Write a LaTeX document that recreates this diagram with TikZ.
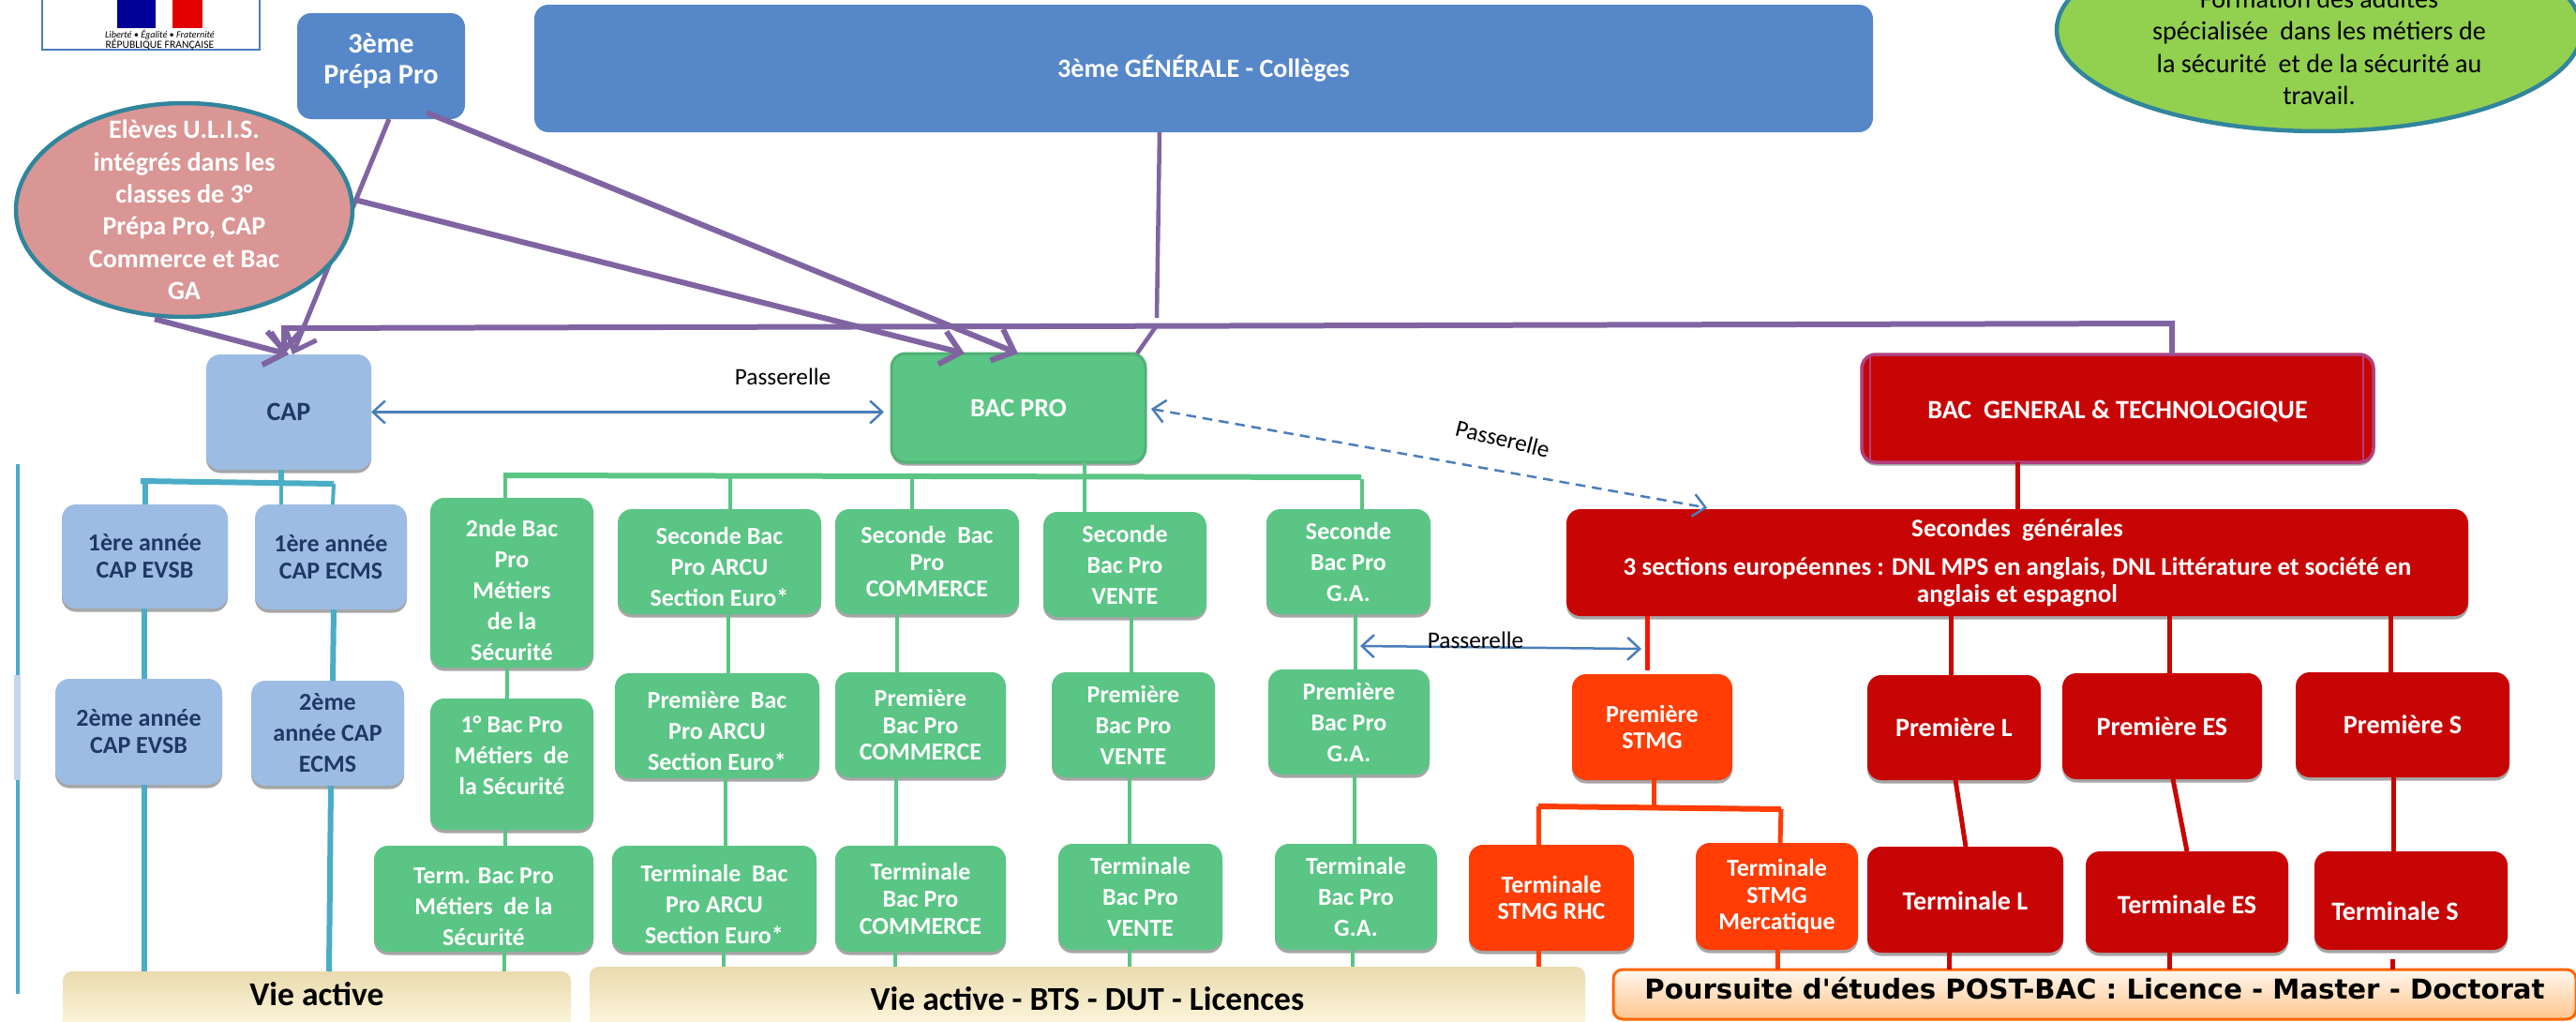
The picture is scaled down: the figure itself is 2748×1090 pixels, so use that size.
\documentclass[tikz,border=0pt]{standalone}
\usepackage{fontspec}
\setmainfont{Carlito}
\newfontfamily\widefont{DejaVu Sans}
\usetikzlibrary{shapes.geometric,shadows,arrows.meta}
\definecolor{blue_top}{HTML}{5687C8}
\definecolor{blue_cap}{HTML}{9DBCE3}
\definecolor{navy_txt}{HTML}{1F3864}
\definecolor{green_pro}{HTML}{5AC584}
\definecolor{red_gen}{HTML}{C80505}
\definecolor{red_edge}{HTML}{B0407F}
\definecolor{orange_stmg}{HTML}{FF3D05}
\definecolor{purple_edge}{HTML}{8064A2}
\definecolor{teal_edge}{HTML}{4BACC6}
\definecolor{teal_dark}{HTML}{31859C}
\definecolor{blue_edge}{HTML}{4A7EBB}
\definecolor{pink_ulis}{HTML}{D99694}
\definecolor{green_form}{HTML}{92D050}
\definecolor{tan_top}{HTML}{E9DBAE}
\definecolor{tan_low}{HTML}{FFF8E1}
% small rules that move the text of a box down or up
\newcommand{\tdown}[1]{\rule{0pt}{#1}}
\newcommand{\tup}[1]{\rule[-#1]{0pt}{#1}}
\begin{document}
\begin{tikzpicture}[x=0.1mm,y=-0.1mm,
box_style/.style={rectangle,rounded corners=1.5mm,inner sep=0pt,outer sep=0pt,align=center,text=white,
  font=\bfseries\fontsize{7.4}{9.4}\selectfont},
box_shadow/.style={drop shadow={shadow xshift=0pt,shadow yshift=-0.35mm,opacity=.35,fill=black}},
tight/.style={font=\bfseries\fontsize{7.4}{8.2}\selectfont},
large/.style={font=\bfseries\fontsize{8}{9.4}\selectfont},
box_top/.style={box_style,fill=blue_top},
box_cap/.style={box_style,box_shadow,fill=blue_cap,text=navy_txt},
box_pro/.style={box_style,box_shadow,fill=green_pro},
box_gen/.style={box_style,box_shadow,fill=red_gen},
box_stmg/.style={box_style,box_shadow,fill=orange_stmg},
box_exit/.style={box_style,rounded corners=1mm,top color=tan_top,bottom color=tan_low,text=black,
  font=\bfseries\fontsize{10.1}{12}\selectfont},
edge_purple/.style={draw=purple_edge,line width=.6mm,-{Straight Barb[length=2mm,width=3.6mm]}},
edge_plain/.style={draw=purple_edge,line width=.45mm},
edge_teal/.style={draw=teal_edge,line width=.6mm},
edge_green/.style={draw=green_pro,line width=.45mm},
edge_red/.style={draw=red_gen,line width=.5mm},
edge_stmg/.style={draw=orange_stmg,line width=.5mm},
edge_pass/.style={draw=blue_edge,line width=.25mm,<->,>={Straight Barb[length=1.3mm,width=2.4mm]}},
pass_txt/.style={inner sep=0pt,text=black,font=\fontsize{7.2}{9}\selectfont}]
\useasboundingbox (0,0) rectangle (2748,1090);
\clip (0,0) rectangle (2748,1090);

% logo
\node[draw=blue_edge,line width=.2mm,inner sep=0pt,minimum width=23.2mm,minimum height=7.3mm] (logo) at (161,16.5) {};
\fill[fill=blue!60!black] (125,0) rectangle (166,30);
\fill[fill=red!90!black] (184,0) rectangle (216,30);
\node[inner sep=0pt,font=\itshape\fontsize{2.9}{3}\selectfont] (logo_a) at (170.5,37) {Liberté • Égalité • Fraternité};
\node[inner sep=0pt,font=\fontsize{3.3}{4}\selectfont] (logo_b) at (170.5,48) {RÉPUBLIQUE FRANÇAISE};

% top row
\node[box_top,font=\bfseries\fontsize{8.6}{9.6}\selectfont,minimum width=17.9mm,minimum height=11.3mm] (prepa) at (406.5,70.5) {3ème\\Prépa Pro\tup{1.6mm}};
\node[box_top,large,minimum width=142.8mm,minimum height=13.6mm] (gen3) at (1284,73) {3ème GÉNÉRALE - Collèges};
\node[ellipse,draw=teal_dark,line width=.45mm,fill=green_form,inner xsep=0pt,inner ysep=-2.5mm,minimum width=56mm,minimum height=21.6mm,align=center,
  font=\fontsize{8}{9.8}\selectfont] (form) at (2474,32)
  {\tdown{5.6mm}Formation des adultes\\spécialisée~ dans les métiers de\\la sécurité~ et de la sécurité au\\travail.};

% head boxes
\node[box_cap,large,minimum width=17.6mm,minimum height=12.3mm] (cap) at (308,439.5) {CAP};
\node[box_pro,large,draw=green_pro!90!black,line width=.3mm,minimum width=27.1mm,minimum height=11.6mm] (bac_pro) at (1086.5,435) {BAC PRO};
\node[box_gen,large,draw=red_edge,line width=.35mm,minimum width=54.6mm,minimum height=11.5mm] (bac_gen) at (2259,435.5) {\tdown{2.5mm}BAC~ GENERAL \& TECHNOLOGIQUE};

% CAP
\node[box_cap,tight,minimum width=17.7mm,minimum height=11.1mm] (cap1_evsb) at (154.5,593.5) {1ère année\\CAP EVSB};
\node[box_cap,tight,minimum width=16.2mm,minimum height=11.2mm] (cap1_ecms) at (353,594) {1ère année\\CAP ECMS};
\node[box_cap,tight,minimum width=17.8mm,minimum height=11.3mm] (cap2_evsb) at (148,780.5) {2ème année\\CAP EVSB};
\node[box_cap,minimum width=16.3mm,minimum height=11.2mm] (cap2_ecms) at (349.5,782) {2ème\\année CAP\\ECMS};

% bac pro, metiers de la securite
\node[box_pro,minimum width=17.4mm,minimum height=18.1mm] (pro_sec2) at (546,621.5) {\tdown{3.4mm}2nde Bac\\Pro\\Métiers\\de la\\Sécurité};
\node[box_pro,minimum width=17.4mm,minimum height=14mm] (pro_sec1) at (546,815) {1° Bac Pro\\Métiers~ de\\la Sécurité\tup{1.9mm}};
\node[box_pro,minimum width=23.4mm,minimum height=11.3mm] (pro_sec0) at (516,958.5) {\tdown{3.4mm}Term. Bac Pro\\Métiers~ de la\\Sécurité};

% bac pro, arcu
\node[box_pro,minimum width=21.7mm,minimum height=11.2mm] (pro_arcu2) at (767.5,599) {\tdown{3mm}Seconde Bac\\Pro ARCU\\Section Euro*};
\node[box_pro,minimum width=21.8mm,minimum height=11.2mm] (pro_arcu1) at (765,774) {\tdown{3mm}Première~ Bac\\Pro ARCU\\Section Euro*};
\node[box_pro,minimum width=21.8mm,minimum height=11.3mm] (pro_arcu0) at (762,958.5) {\tdown{3mm}Terminale~ Bac\\Pro ARCU\\Section Euro*};

% bac pro, commerce
\node[box_pro,tight,minimum width=19.6mm,minimum height=11.2mm] (pro_com2) at (989,599) {Seconde~ Bac\\Pro\\COMMERCE};
\node[box_pro,tight,minimum width=18.2mm,minimum height=11.2mm] (pro_com1) at (982,773) {Première\\Bac Pro\\COMMERCE};
\node[box_pro,tight,minimum width=18.2mm,minimum height=11.3mm] (pro_com0) at (982,958.5) {Terminale\\Bac Pro\\COMMERCE};

% bac pro, vente
\node[box_pro,minimum width=17.4mm,minimum height=11.2mm] (pro_ven2) at (1200,602) {Seconde\\Bac Pro\\VENTE};
\node[box_pro,minimum width=17.4mm,minimum height=11.2mm] (pro_ven1) at (1209,773) {Première\\Bac Pro\\VENTE};
\node[box_pro,minimum width=17.5mm,minimum height=11.3mm] (pro_ven0) at (1216.5,956.5) {Terminale\\Bac Pro\\VENTE};

% bac pro, g.a.
\node[box_pro,minimum width=17.5mm,minimum height=11.2mm] (pro_ga2) at (1438.5,599) {Seconde\\Bac Pro\\G.A.};
\node[box_pro,minimum width=17.2mm,minimum height=11.2mm] (pro_ga1) at (1439,770) {Première\\Bac Pro\\G.A.};
\node[box_pro,minimum width=17.3mm,minimum height=11.3mm] (pro_ga0) at (1446.5,956.5) {Terminale\\Bac Pro\\G.A.};

% bac general
\node[box_gen,font=\bfseries\fontsize{7.7}{8.2}\selectfont,minimum width=96.2mm,minimum height=11.4mm] (sec_gen) at (2152,600) {Secondes~ générales\\[1.2mm]3 sections européennes : DNL MPS en anglais, DNL Littérature et société en\\anglais et espagnol};
\node[box_stmg,tight,minimum width=17.1mm,minimum height=11.3mm] (stmg1) at (1762.5,775.5) {Première\\STMG};
\node[box_stmg,tight,minimum width=17.6mm,minimum height=11.3mm] (stmg_rhc) at (1655,957.5) {Terminale\\STMG RHC};
\node[box_stmg,tight,minimum width=17.3mm,minimum height=11.4mm] (stmg_mer) at (1895.5,956) {Terminale\\STMG\\Mercatique};
\node[box_gen,large,minimum width=18.5mm,minimum height=11.2mm] (pre_l) at (2084.5,776) {Première L};
\node[box_gen,large,minimum width=21.3mm,minimum height=11.3mm] (pre_es) at (2306.5,774.5) {Première ES};
\node[box_gen,large,minimum width=22.8mm,minimum height=11.2mm] (pre_s) at (2563,773) {Première S};
\node[box_gen,large,minimum width=20.9mm,minimum height=11.3mm] (term_l) at (2096.5,959.5) {\tdown{2.2mm}Terminale L};
\node[box_gen,large,minimum width=21.6mm,minimum height=10.8mm] (term_es) at (2333,962) {\tdown{2.6mm}Terminale ES};
\node[box_gen,large,minimum width=20.6mm,minimum height=10.5mm] (term_s) at (2572,960.5) {\tdown{4.2mm}Terminale S\hspace*{3.4mm}};

% exits
\node[box_exit,minimum width=54.2mm,minimum height=6.4mm] (exit_cap) at (338,1068) {Vie active\tup{1.5mm}};
\node[box_exit,minimum width=106.2mm,minimum height=6.9mm] (exit_bac) at (1160,1065.5) {Vie active - BTS - DUT - Licences};
\node[box_style,draw=orange!80!red,line width=.3mm,rounded corners=1mm,top color=orange!6!white,bottom color=orange!45!white,text=black,
  font=\widefont\bfseries\fontsize{8.3}{9}\selectfont,minimum width=102.7mm,minimum height=5.3mm] (exit_gen) at (2234.5,1060.5) {Poursuite d'études POST-BAC : Licence - Master - Doctorat\tup{1.3mm}};

% the line that passes behind the oval
\draw[edge_purple,line width=.5mm] (prepa.south -| 415,0) -- (cap.north -| 312,0);
\node[ellipse,draw=teal_dark,line width=.45mm,fill=pink_ulis,inner xsep=0pt,inner ysep=-2.4mm,minimum width=35.9mm,minimum height=22.8mm,align=center,text=white,
  font=\bfseries\fontsize{8}{9.8}\selectfont] (ulis) at (196.5,224)
  {Elèves U.L.I.S.\\intégrés dans les\\classes de 3°\\Prépa Pro, CAP\\Commerce et Bac\\GA};

% purple links
\coordinate (bus_r) at (2317,345);
\coordinate (bus_l) at (303,350);
\coordinate (bus_m) at (1234,347);
\coordinate (bus_up) at (1234,339);
\draw[edge_purple] (ulis.south -| 165,0) -- (cap.north -| 308,0);
\draw[edge_purple] (ulis.east) ++(0,-11) -- (bac_pro.north -| 1029,0);
\draw[edge_purple] (prepa.south -| 455,0) ++(0,-7) -- (bac_pro.north -| 1086,0);
\draw[edge_purple] (bac_gen.north -| 2317,0) -- (bus_r) -- (bus_l) -- (cap.north -| 303,0);
\draw[edge_plain] (gen3.south -| 1237,0) -- (bus_up);
\draw[edge_plain] (bus_m) -- (bac_pro.north -| 1213,0);

% passerelles
\coordinate (pass_l) at (1451,689);
\coordinate (pass_r) at (1751,692);
\draw[edge_pass,shorten >=.8mm] (cap.east) -- (bac_pro.west |- cap.east);
\draw[edge_pass,densely dashed,shorten <=.6mm,shorten >=.8mm] (bac_pro.east) -- (sec_gen.north -| 1829,0);
\draw[edge_pass] (pass_l) -- (pass_r);
\node[pass_txt] (pass_a) at (835,402) {Passerelle};
\node[pass_txt,rotate=-14] (pass_b) at (1603,468) {Passerelle};
\node[pass_txt] (pass_c) at (1574,683) {Passerelle};

% cap links
\coordinate (cap_bus_l) at (150,513);
\coordinate (cap_bus_m) at (300,515);
\coordinate (cap_bus_r) at (356,516);
\draw[draw=teal_edge,line width=.35mm] (19,495) -- (19,1060);
\fill[fill=blue_cap!60!white] (15,720) rectangle (22,832);
\draw[edge_teal] (cap.south -| 300,0) -- (cap_bus_m);
\draw[edge_teal] (cap_bus_l) -- (cap_bus_r);
\draw[edge_teal] (cap1_evsb.north -| 155,0) -- (155,513);
\draw[edge_teal,line width=.4mm] (cap1_ecms.north -| 300,0) -- (cap_bus_m);
\draw[edge_teal,line width=.4mm] (cap1_ecms.north -| 355,0) -- (cap_bus_r);
\draw[edge_teal] (cap1_evsb.south -| 154,0) -- (cap2_evsb.north -| 154,0);
\draw[edge_teal] (cap1_ecms.south -| 356,0) -- (cap2_ecms.north -| 355,0);
\draw[edge_teal] (cap2_evsb.south -| 154,0) -- (exit_cap.north -| 154,0);
\draw[edge_teal] (cap2_ecms.south -| 353,0) -- (exit_cap.north -| 351,0);

% bac pro links
\coordinate (pro_bus_l) at (537,507);
\coordinate (pro_bus_r) at (1452,509);
\draw[edge_green,line width=.6mm] (pro_bus_l) -- (pro_bus_r);
\draw[edge_green] (bac_pro.south -| 1157,0) -- (pro_ven2.north -| 1157,0);
\draw[edge_green] (539,507) -- (pro_sec2.north -| 539,0);
\draw[edge_green] (779,508) -- (pro_arcu2.north -| 779,0);
\draw[edge_green] (973,511) -- (pro_com2.north -| 973,0);
\draw[edge_green] (1453,511) -- (pro_ga2.north -| 1453,0);
\draw[edge_green] (pro_sec2.south -| 541,0) -- (pro_sec1.north -| 541,0);
\draw[edge_green] (pro_sec1.south -| 539,0) -- (pro_sec0.north -| 539,0);
\draw[edge_green] (pro_sec0.south -| 538,0) -- (exit_cap.north -| 538,0);
\draw[edge_green] (pro_arcu2.south -| 777,0) -- (pro_arcu1.north -| 777,0);
\draw[edge_green] (pro_arcu1.south -| 774,0) -- (pro_arcu0.north -| 774,0);
\draw[edge_green] (pro_arcu0.south -| 772,0) -- (exit_bac.north -| 772,0);
\draw[edge_green] (pro_com2.south -| 957,0) -- (pro_com1.north -| 957,0);
\draw[edge_green] (pro_com1.south -| 956,0) -- (pro_com0.north -| 956,0);
\draw[edge_green] (pro_com0.south -| 955,0) -- (exit_bac.north -| 955,0);
\draw[edge_green] (pro_ven2.south -| 1207,0) -- (pro_ven1.north -| 1207,0);
\draw[edge_green] (pro_ven1.south -| 1205,0) -- (pro_ven0.north -| 1205,0);
\draw[edge_green] (pro_ven0.south -| 1205,0) -- (exit_bac.north -| 1205,0);
\draw[edge_green] (pro_ga2.south -| 1446,0) -- (pro_ga1.north -| 1446,0);
\draw[edge_green] (pro_ga1.south -| 1445,0) -- (pro_ga0.north -| 1445,0);
\draw[edge_green] (pro_ga0.south -| 1443,0) -- (exit_bac.north -| 1443,0);

% bac general links
\coordinate (stmg_bus_l) at (1641,860);
\coordinate (stmg_bus_m) at (1764,861);
\coordinate (stmg_bus_r) at (1900,863);
\draw[draw=red_edge,line width=.2mm] (bac_gen.north -| 1995,0) -- (bac_gen.south -| 1995,0);
\draw[draw=red_edge,line width=.2mm] (bac_gen.north -| 2521,0) -- (bac_gen.south -| 2521,0);
\draw[edge_red] (bac_gen.south -| 2152,0) -- (sec_gen.north -| 2152,0);
\draw[edge_red,draw=red!85!orange] (sec_gen.south -| 1757,0) -- (1757,715);
\draw[edge_red] (sec_gen.south -| 2081,0) -- (pre_l.north -| 2081,0);
\draw[edge_red] (sec_gen.south -| 2314,0) -- (pre_es.north -| 2314,0);
\draw[edge_red] (sec_gen.south -| 2550,0) -- (pre_s.north -| 2550,0);
\draw[edge_red] (pre_l.south -| 2086,0) -- (term_l.north -| 2097,0);
\draw[edge_red] (pre_es.south -| 2318,0) -- (term_es.north -| 2333,0);
\draw[edge_red] (pre_s.south -| 2553,0) -- (term_s.north -| 2553,0);
\draw[edge_red] (term_l.south -| 2079,0) -- (exit_gen.north -| 2079,0);
\draw[edge_red] (term_es.south -| 2314,0) -- (exit_gen.north -| 2314,0);
\draw[edge_red] (2552,1023) -- (exit_gen.north -| 2552,0);
\draw[edge_stmg] (stmg1.south -| 1764,0) -- (stmg_bus_m);
\draw[edge_stmg,line width=.6mm] (stmg_bus_l) -- (stmg_bus_r);
\draw[edge_stmg] (stmg_bus_l) -- (stmg_rhc.north -| 1641,0);
\draw[edge_stmg] (stmg_bus_r) -- (stmg_mer.north -| 1899,0);
\draw[edge_stmg] (stmg_rhc.south -| 1641,0) -- (exit_bac.north -| 1641,0);
\draw[edge_stmg] (stmg_mer.south -| 1896,0) -- (exit_gen.north -| 1896,0);
\end{tikzpicture}
\end{document}
